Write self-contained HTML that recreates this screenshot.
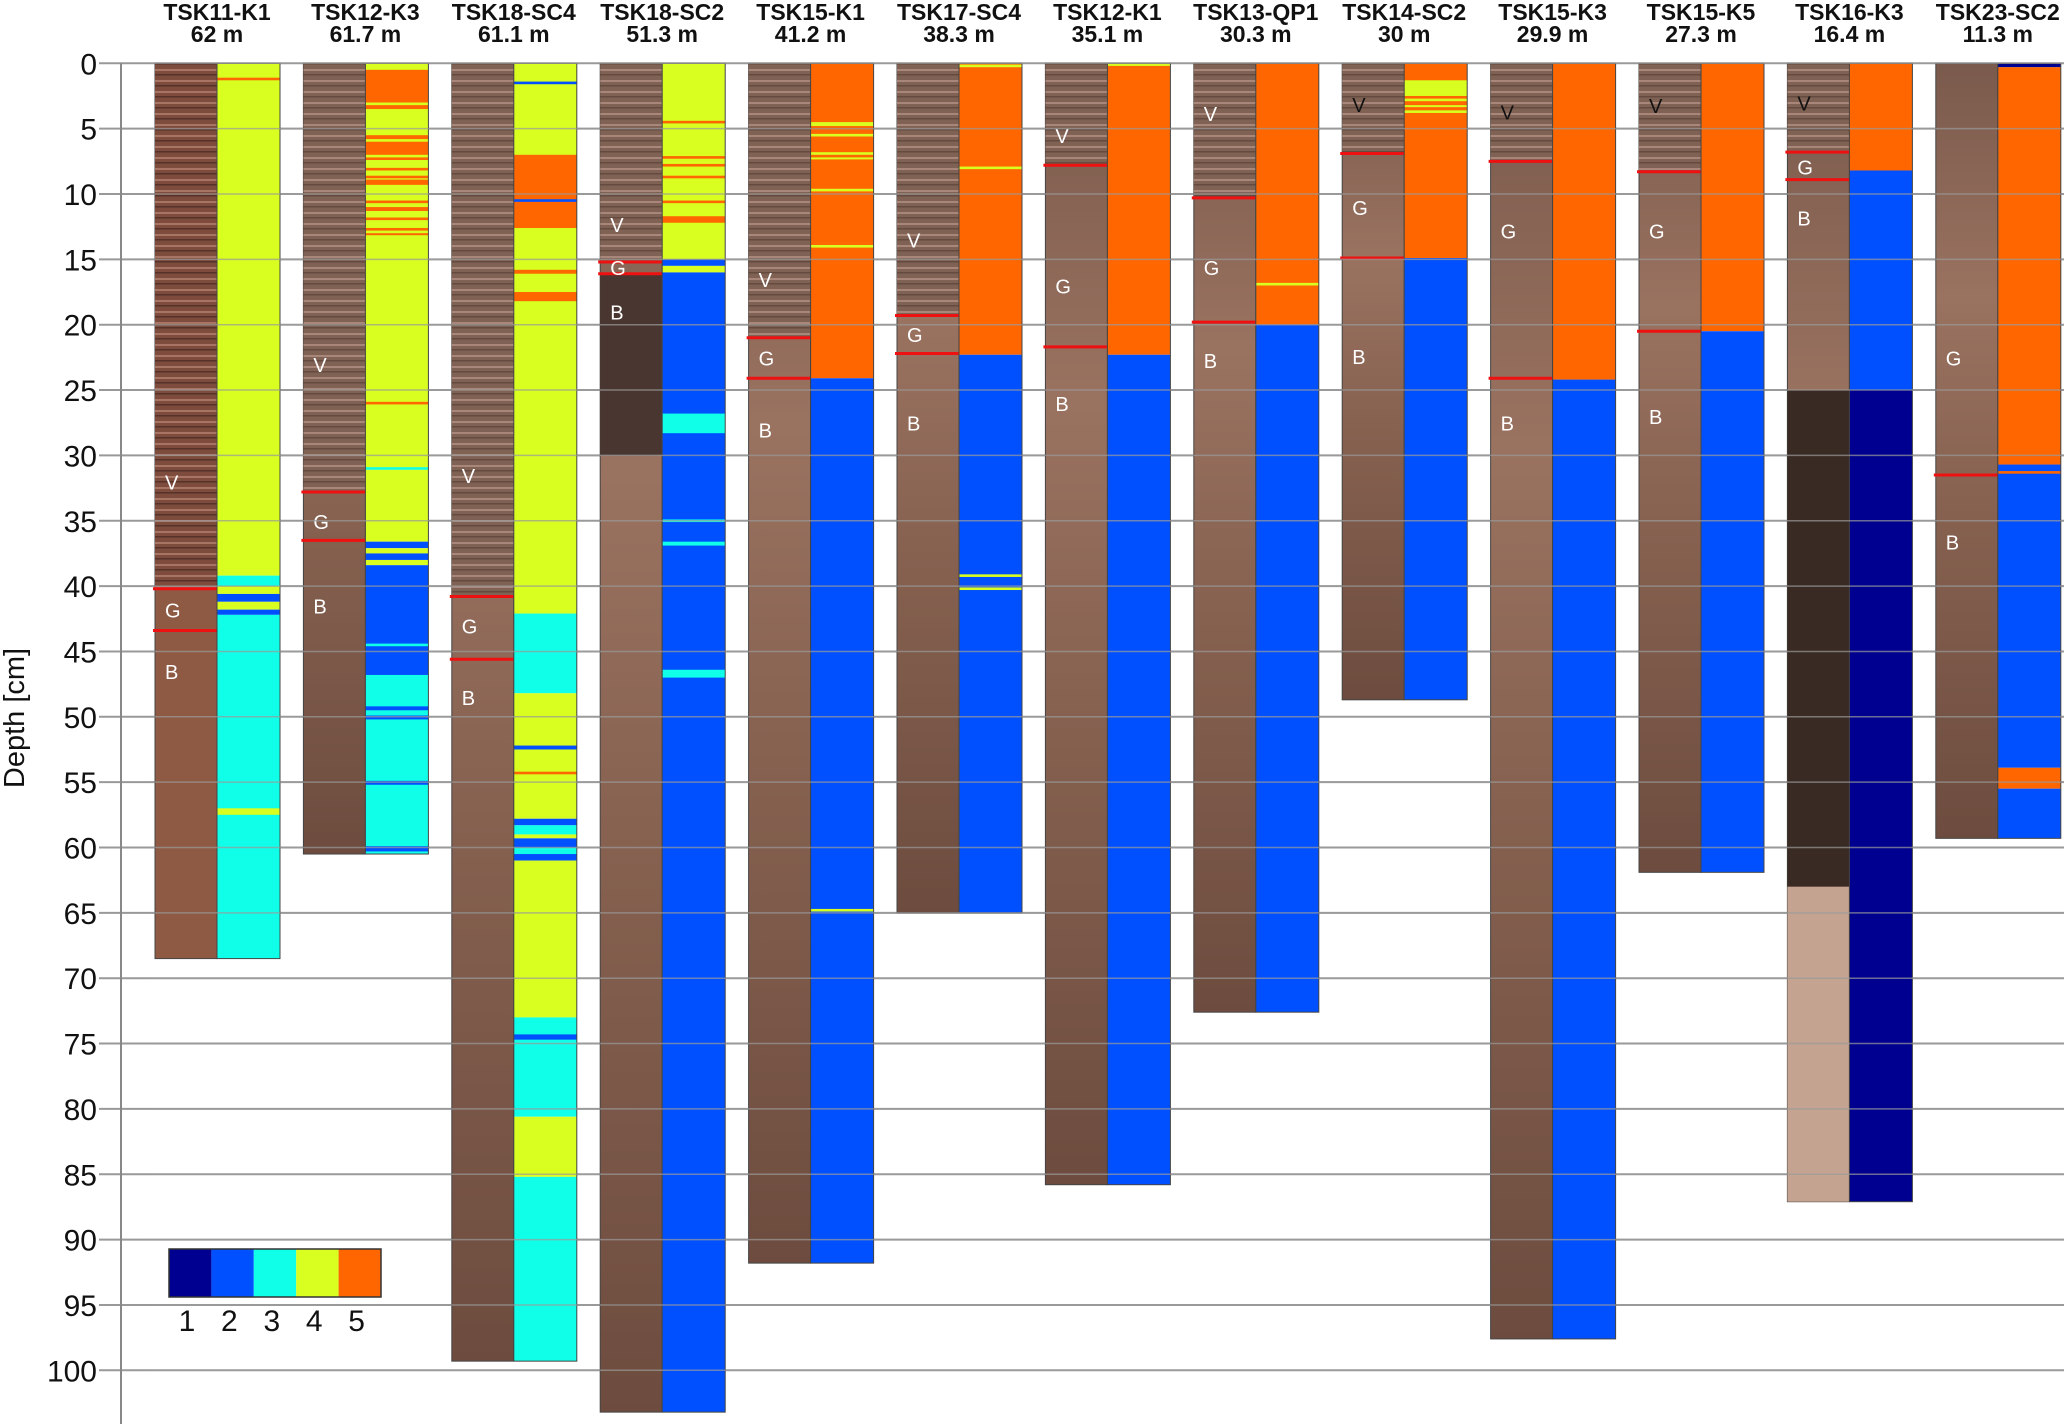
<!DOCTYPE html>
<html><head><meta charset="utf-8"><style>
html,body{margin:0;padding:0;background:#fff}
svg{display:block}
text{font-family:"Liberation Sans",Arial,sans-serif}
</style></head><body>
<svg id="chart" width="2067" height="1424" viewBox="0 0 2067 1424" xmlns="http://www.w3.org/2000/svg">
<defs>
<linearGradient id="lowerA" x1="0" y1="0" x2="0" y2="1">
<stop offset="0" stop-color="#7a5a4c"/><stop offset="0.3" stop-color="#9a7260"/><stop offset="0.6" stop-color="#85604f"/><stop offset="1" stop-color="#6d4c3f"/></linearGradient>
<pattern id="varve" width="20" height="11" patternUnits="userSpaceOnUse">
<rect width="20" height="11" fill="#806254"/><rect y="3" width="20" height="2" fill="#a8877a"/><rect y="8" width="20" height="1.5" fill="#644a3f"/></pattern>
<pattern id="varveR" width="20" height="11" patternUnits="userSpaceOnUse">
<rect width="20" height="11" fill="#7e4c3c"/><rect y="3" width="20" height="2" fill="#a87565"/><rect y="8" width="20" height="1.5" fill="#56322a"/></pattern>
</defs>
<g id="grid"></g>
<g id="cores"></g>
<g id="gridTop"></g>
<g id="axis"></g>
<g id="legend"></g>
</svg>
<script>
const NS="http://www.w3.org/2000/svg";
const coreNames=["TSK11-K1","TSK12-K3","TSK18-SC4","TSK18-SC2","TSK15-K1","TSK17-SC4","TSK12-K1","TSK13-QP1","TSK14-SC2","TSK15-K3","TSK15-K5","TSK16-K3","TSK23-SC2"];
const waterDepths=["62 m","61.7 m","61.1 m","51.3 m","41.2 m","38.3 m","35.1 m","30.3 m","30 m","29.9 m","27.3 m","16.4 m","11.3 m"];
const coreLengths=[68.5,60.5,99.3,103.2,91.8,65,85.8,72.6,48.7,97.6,61.9,87.1,59.3];
const varveBase=[40.2,32.8,40.8,15.2,21,19.3,7.8,10.3,6.9,7.5,8.3,6.8,0];
const redLines=[[40.2,43.4],[32.8,36.5],[40.8,45.6],[15.2,16.1],[21,24.1],[19.3,22.2],[7.8,21.7],[10.3,19.8],[6.9,14.9],[7.5,24.1],[8.3,20.5],[6.8,8.9],[31.5]];
const labelV=[32,23,31.5,12.3,16.5,13.5,5.5,3.8,3.1,3.7,3.2,3,null];
const labelG=[41.8,35,43,15.6,22.5,20.7,17,15.6,11,12.8,12.8,7.9,22.5];
const labelB=[46.5,41.5,48.5,19,28,27.5,26,22.7,22.4,27.5,27,11.8,36.6];
const classSegments=[
 [[0,39.2,4],[1.1,1.3,5],[39.2,40,3],[40,40.6,4],[40.6,41.2,2],[41.2,41.8,4],[41.8,42.2,2],[42.2,68.5,3],[57,57.5,4]],
 [[0,36.6,4],[0.5,3,5],[3.2,3.5,5],[5.5,5.8,5],[6,7,5],[7.2,7.4,5],[8,8.2,5],[8.6,8.8,5],[8.9,9.3,5],[10.5,10.7,5],[11,11.3,5],[11.8,12,5],[12.6,12.8,5],[13,13.1,5],[25.9,26.1,5],[30.9,31.1,3],[36.6,37.1,2],[37.1,37.5,4],[37.5,38,2],[38,38.4,4],[38.4,46.8,2],[44.4,44.6,3],[46.8,60.5,3],[49.2,49.5,2],[49.9,50.2,2],[54.9,55.2,2],[59.9,60.3,2]],
 [[0,42.1,4],[1.4,1.6,2],[7,12.6,5],[10.4,10.6,2],[15.8,16.1,5],[17.5,18.2,5],[42.1,48.2,3],[48.2,57.8,4],[52.2,52.5,2],[54.2,54.4,5],[57.8,58.3,2],[58.3,59,3],[59,59.3,4],[59.3,60,2],[60,60.5,3],[60.5,61,2],[61,73,4],[73,80.6,3],[74.3,74.7,2],[80.6,85.2,4],[85.2,99.3,3]],
 [[0,15,4],[4.4,4.6,5],[7.1,7.3,5],[7.7,7.9,5],[8.6,8.8,5],[10.5,10.7,5],[11.7,12.2,5],[15,15.5,2],[15.5,16,4],[16,103.2,2],[26.8,28.3,3],[34.9,35.1,3],[36.6,36.9,3],[46.4,47,3]],
 [[0,24.1,5],[4.5,4.8,4],[5.4,5.6,4],[6.8,7,4],[7.2,7.3,4],[9.6,9.8,4],[13.9,14.1,4],[24.1,91.8,2],[64.7,64.9,4]],
 [[0,22.3,5],[0.1,0.3,4],[7.9,8.1,4],[22.3,65,2],[39.1,39.3,4],[40.1,40.3,4]],
 [[0,22.3,5],[0,0.2,4],[22.3,85.8,2]],
 [[0,20,5],[16.8,17,4],[20,72.6,2]],
 [[0,14.9,5],[1.3,2.5,4],[2.7,2.9,4],[3.2,3.3,4],[3.6,3.8,4],[14.9,48.7,2]],
 [[0,24.2,5],[24.2,97.6,2]],
 [[0,20.5,5],[20.5,61.9,2]],
 [[0,8.2,5],[8.2,25,2],[25,87.1,1]],
 [[0,0.3,1],[0.3,30.7,5],[30.7,53.9,2],[31.2,31.4,5],[53.9,55.5,5],[55.5,59.3,2]]
];
const classColors=["#000090","#0050ff","#10ffe8","#d8ff20","#ff6600"];
const legendLabels=["1","2","3","4","5"];
const yTicks=[0,5,10,15,20,25,30,35,40,45,50,55,60,65,70,75,80,85,90,95,100];

const Y0=63.3, PX=13.07;
function y(cm){return Y0+cm*PX;}
function colX(i){return 155+i*148.4;}
const IMGW=62, BARW=63;

function el(tag,attrs,parent){const e=document.createElementNS(NS,tag);for(const k in attrs)e.setAttribute(k,attrs[k]);parent.appendChild(e);return e;}
const grid=document.getElementById('grid'),gridTop=document.getElementById('gridTop'),cores=document.getElementById('cores'),axis=document.getElementById('axis'),legend=document.getElementById('legend');

yTicks.forEach(t=>{
  const l=el('line',{x1:99,x2:2064,y1:y(t),y2:y(t),stroke:'#999','stroke-width':2},grid);
  
  
  const l2=el('line',{x1:150,x2:2064,y1:y(t),y2:y(t),stroke:'#9a9a9a','stroke-width':1.5,'stroke-opacity':0.7},gridTop);
  
  
  const tx=el('text',{x:97,y:y(t)+11,'text-anchor':'end','font-size':30,fill:'#111'},axis);
  tx.textContent=t;
  
  
});
const ax=el('line',{x1:121,x2:121,y1:y(0),y2:1424,stroke:'#888','stroke-width':2},axis);


const yt=el('text',{x:0,y:0,'font-size':29,fill:'#111','text-anchor':'middle',transform:'translate(24,718) rotate(-90)'},axis);
yt.textContent='Depth [cm]';



coreNames.forEach((name,i)=>{
  const g=el('g',{},cores);
  
  
  const x=colX(i), L=coreLengths[i], vb=varveBase[i];
  const t1=el('text',{x:x+IMGW,y:20,'text-anchor':'middle','font-size':23,'font-weight':'bold',fill:'#111'},g);
  t1.textContent=name;
  
  
  const t2=el('text',{x:x+IMGW,y:42,'text-anchor':'middle','font-size':23,'font-weight':'bold',fill:'#111'},g);
  t2.textContent=waterDepths[i];
  
  
  const lowerFill = i===0 ? '#8e5a44' : 'url(#lowerA)';
  const ph=el('rect',{x:x,y:y(0),width:IMGW,height:y(L)-y(0),fill:lowerFill,stroke:'#444','stroke-width':1},g);
  
  
  if(vb>0){
    const v=el('rect',{x:x,y:y(0),width:IMGW,height:y(vb)-y(0),fill:i===0?'url(#varveR)':'url(#varve)'},g);
    
    
  }
  if(i===11){
    const d=el('rect',{x:x,y:y(25),width:IMGW,height:y(63)-y(25),fill:'#3a2a24'},g);
    
    
    const lt=el('rect',{x:x,y:y(63),width:IMGW,height:y(L)-y(63),fill:'#c4a390'},g);
    
    
  }
  if(i===3){
    const d=el('rect',{x:x,y:y(16.1),width:IMGW,height:y(30)-y(16.1),fill:'#4a3630'},g);
    
    
  }
  redLines[i].forEach(r=>{
    const rl=el('line',{x1:x-2,x2:x+IMGW,y1:y(r),y2:y(r),stroke:'#ee1111','stroke-width':3},g);
    
    
  });
  const dark = i>=8;
  [['V',labelV[i]],['G',labelG[i]],['B',labelB[i]]].forEach(([s,d])=>{
    if(d==null)return;
    const tl=el('text',{x:x+10,y:y(d)+8,'font-size':20,fill:(s==='V'&&dark)?'#111':'#fff'},g);
    tl.textContent=s;
    
    
  });
  const bx=x+IMGW;
  classSegments[i].forEach(s=>{
    const r=el('rect',{x:bx,y:y(s[0]),width:BARW,height:Math.max(2,y(s[1])-y(s[0])),fill:classColors[s[2]-1]},g);
    
    
  });
  const ob=el('rect',{x:bx,y:y(0),width:BARW,height:y(L)-y(0),fill:'none',stroke:'#444','stroke-width':1},g);
  
  
});

legendLabels.forEach((lab,k)=>{
  const lx=169+k*42.4;
  const r=el('rect',{x:lx,y:1249,width:42.4,height:48,fill:classColors[k]},legend);
  
  
  const t=el('text',{x:lx+18,y:1331,'text-anchor':'middle','font-size':30,fill:'#111'},legend);
  t.textContent=lab;
  
  
});
const lb=el('rect',{x:169,y:1249,width:212,height:48,fill:'none',stroke:'#333','stroke-width':1.5},legend);


</script>
</body></html>
